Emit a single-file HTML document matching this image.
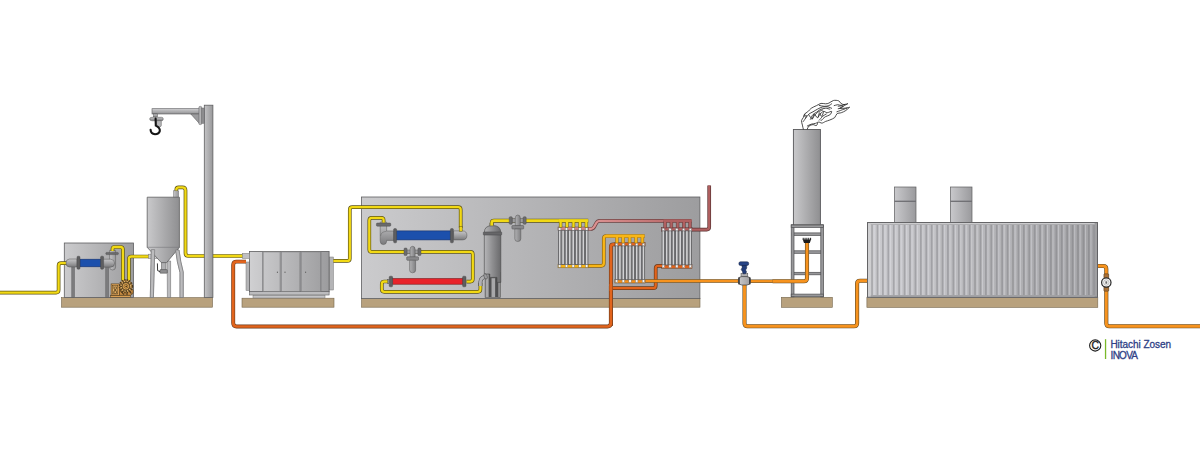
<!DOCTYPE html>
<html><head><meta charset="utf-8"><title>Process diagram</title>
<style>html,body{margin:0;padding:0;background:#fff;}svg{display:block;}</style>
</head><body>
<svg width="1200" height="452" viewBox="0 0 1200 452">
<rect width="1200" height="452" fill="#ffffff"/>
<defs>
<linearGradient id="gB" x1="0" y1="0" x2="1" y2="0"><stop offset="0" stop-color="#cbcbcd"/><stop offset="1" stop-color="#9d9d9f"/></linearGradient>
<linearGradient id="gS" x1="0" y1="0" x2="1" y2="0"><stop offset="0" stop-color="#c9c9cb"/><stop offset="1" stop-color="#8f8f91"/></linearGradient>
<linearGradient id="gP" x1="0" y1="0" x2="1" y2="0"><stop offset="0" stop-color="#c4c4c6"/><stop offset="1" stop-color="#98989a"/></linearGradient>
<linearGradient id="gV" x1="0" y1="0" x2="0" y2="1"><stop offset="0" stop-color="#b8b8ba"/><stop offset="0.5" stop-color="#8e8e90"/><stop offset="1" stop-color="#6e6e70"/></linearGradient>
<linearGradient id="gC" x1="0" y1="0" x2="1" y2="0"><stop offset="0" stop-color="#b6b6b8"/><stop offset="0.5" stop-color="#8e8e90"/><stop offset="1" stop-color="#6a6a6c"/></linearGradient>
<linearGradient id="gV2" x1="0" y1="0" x2="0" y2="1"><stop offset="0" stop-color="#c6c6c8"/><stop offset="0.5" stop-color="#a2a2a4"/><stop offset="1" stop-color="#7a7a7c"/></linearGradient>
<linearGradient id="gA" x1="0" y1="0" x2="0" y2="1"><stop offset="0" stop-color="#cdcdcf"/><stop offset="0.35" stop-color="#b8b8ba"/><stop offset="0.7" stop-color="#a4a4a6"/><stop offset="1" stop-color="#8a8a8c"/></linearGradient>
<linearGradient id="gK" x1="0" y1="0" x2="1" y2="0"><stop offset="0" stop-color="#cbcbcf"/><stop offset="1" stop-color="#a2a2a5"/></linearGradient>
<linearGradient id="gPk" gradientUnits="userSpaceOnUse" x1="588" y1="0" x2="692" y2="0"><stop offset="0" stop-color="#de9494"/><stop offset="1" stop-color="#b26262"/></linearGradient>
<linearGradient id="gF" x1="0" y1="0" x2="1" y2="0"><stop offset="0" stop-color="#b2b2b4"/><stop offset="1" stop-color="#808082"/></linearGradient>
<linearGradient id="gH" x1="0" y1="0" x2="1" y2="0"><stop offset="0" stop-color="#c9c9cc"/><stop offset="1" stop-color="#9a9a9d"/></linearGradient>
<linearGradient id="gT" x1="0" y1="0" x2="1" y2="0"><stop offset="0" stop-color="#d0d0d2"/><stop offset="1" stop-color="#9c9c9e"/></linearGradient>
</defs>
<rect x="361.5" y="298.6" width="338.5" height="8.599999999999966" fill="#b8a17d" stroke="#74654c" stroke-width="0.6"/>
<rect x="361.5" y="197" width="338.4" height="101.6" fill="url(#gB)" stroke="#5e5e60" stroke-width="0.8"/>
<rect x="61.5" y="297.6" width="151.0" height="9.599999999999966" fill="#b8a17d" stroke="#74654c" stroke-width="0.6"/>
<rect x="64.3" y="243" width="69.2" height="54.5" fill="url(#gB)" stroke="#5e5e60" stroke-width="0.8"/>
<path d="M0 292.6 L56.10 292.60 Q58.6 292.6 58.60 290.10 L58.60 265.70 Q58.6 263.2 61.10 263.20 L68 263.2" fill="none" stroke="#5e5416" stroke-width="3.7" stroke-linejoin="round" stroke-linecap="butt"/>
<path d="M0 292.6 L56.10 292.60 Q58.6 292.6 58.60 290.10 L58.60 265.70 Q58.6 263.2 61.10 263.20 L68 263.2" fill="none" stroke="#f2d914" stroke-width="2.3" stroke-linejoin="round" stroke-linecap="butt"/>
<rect x="71.8" y="266" width="2.6" height="31.5" fill="#7c7c7e" stroke="#58585a" stroke-width="0.5"/>
<rect x="105.8" y="266" width="2.6" height="31.5" fill="#7c7c7e" stroke="#58585a" stroke-width="0.5"/>
<path d="M77 259 L69.5 259 Q66 259 66 263 Q66 267 69.5 267 L77 267 Z" fill="url(#gV2)" stroke="#555" stroke-width="0.5"/>
<path d="M109.6 250.4 L115.6 250.4 L115.6 267 Q115.6 270 112.6 270 Q109.6 270 109.6 267 Z" fill="url(#gP)" stroke="#555" stroke-width="0.5"/>
<path d="M101 259.2 L110.6 259.2 Q114.6 259.4 114.6 263.2 Q114.6 267 110.6 267.2 L101 267.2 Z" fill="url(#gV2)" stroke="#555" stroke-width="0.5"/>
<rect x="105.8" y="252.4" width="12.6" height="2.2" rx="0.8" fill="#6a6a6c" stroke="#444" stroke-width="0.4"/>
<rect x="79.9" y="259.2" width="21" height="7.6" fill="#1c50ac" stroke="#16306a" stroke-width="0.6"/>
<rect x="77" y="256.2" width="3" height="13" rx="1" fill="#5e5e60" stroke="#444" stroke-width="0.4"/>
<rect x="100.6" y="256.2" width="3" height="13" rx="1" fill="#5e5e60" stroke="#444" stroke-width="0.4"/>
<path d="M112.5 251 L112.50 249.00 Q112.5 247 114.50 247.00 L120.40 247.00 Q122.9 247 122.90 249.50 L122.9 280.6" fill="none" stroke="#5e5416" stroke-width="3.7" stroke-linejoin="round" stroke-linecap="butt"/>
<path d="M112.5 251 L112.50 249.00 Q112.5 247 114.50 247.00 L120.40 247.00 Q122.9 247 122.90 249.50 L122.9 280.6" fill="none" stroke="#f2d914" stroke-width="2.3" stroke-linejoin="round" stroke-linecap="butt"/>
<path d="M128.9 280.6 L128.90 259.00 Q128.9 256.5 131.40 256.50 L149.2 256.5" fill="none" stroke="#5e5416" stroke-width="3.7" stroke-linejoin="round" stroke-linecap="butt"/>
<path d="M128.9 280.6 L128.90 259.00 Q128.9 256.5 131.40 256.50 L149.2 256.5" fill="none" stroke="#f2d914" stroke-width="2.3" stroke-linejoin="round" stroke-linecap="butt"/>
<rect x="110.6" y="295.2" width="20" height="2" fill="#e2a658" stroke="#4e3a1c" stroke-width="0.5"/>
<path d="M119 287 L131.5 288.6 Q133.2 289.4 133.2 291 L133 293.4 L130.4 295.3 L119 295.3 Z" fill="#c88c44" stroke="#4e3a1c" stroke-width="0.6"/>
<path d="M120.6 291 L124 294.6 M127 291.6 L127 295 M129.4 290.6 L131.4 293.6" stroke="#4e3a1c" stroke-width="1.1" fill="none"/>
<rect x="111.1" y="283.9" width="8.2" height="11.4" fill="#e0a458" stroke="#4e3a1c" stroke-width="0.6"/>
<rect x="112.6" y="285.6" width="5.2" height="8.4" fill="#e8b468" stroke="#4e3a1c" stroke-width="0.5"/>
<circle cx="115.2" cy="288.2" r="1.4" fill="none" stroke="#4e3a1c" stroke-width="0.6"/>
<circle cx="115.2" cy="292" r="1.6" fill="none" stroke="#4e3a1c" stroke-width="0.6"/>
<path d="M113.2 286 L117.2 294 M117.2 286 L113.2 294" stroke="#4e3a1c" stroke-width="0.4" fill="none"/>
<circle cx="125.9" cy="286.3" r="6.5" fill="#d89c4c" stroke="#4e3a1c" stroke-width="1.5" stroke-dasharray="1.5 1.05"/>
<circle cx="125.9" cy="286.3" r="5.9" fill="#5a4424" stroke="none"/>
<circle cx="125.9" cy="286.3" r="4.9" fill="none" stroke="#f2c070" stroke-width="1.3" stroke-dasharray="1.3 1.27"/>
<circle cx="125.9" cy="286.3" r="3.6" fill="#f0b45c" stroke="#4e3a1c" stroke-width="0.7"/>
<circle cx="125.9" cy="286.3" r="2" fill="#e8a850" stroke="#4e3a1c" stroke-width="0.6"/>
<circle cx="126.2" cy="286.3" r="0.9" fill="#4e3a1c"/>
<path d="M176.3 192 L176.30 189.65 Q176.3 187.3 178.65 187.30 L182.50 187.30 Q185.5 187.3 185.50 190.30 L185.50 253.00 Q185.5 256 188.50 256.00 L243 256" fill="none" stroke="#5e5416" stroke-width="3.7" stroke-linejoin="round" stroke-linecap="butt"/>
<path d="M176.3 192 L176.30 189.65 Q176.3 187.3 178.65 187.30 L182.50 187.30 Q185.5 187.3 185.50 190.30 L185.50 253.00 Q185.5 256 188.50 256.00 L243 256" fill="none" stroke="#f2d914" stroke-width="2.3" stroke-linejoin="round" stroke-linecap="butt"/>
<rect x="173.7" y="190.8" width="4.8" height="6.6" fill="url(#gP)" stroke="#666" stroke-width="0.5"/>
<rect x="148.6" y="254.2" width="8.6" height="4.4" fill="#d0d0d2" stroke="#777" stroke-width="0.5"/>
<path d="M151.3 249.6 L154.7 249.6 L153.4 297.5 L150.3 297.5 Z" fill="#bcbcbe" stroke="#707072" stroke-width="0.6"/>
<path d="M167.2 261 L170.6 261 L170.6 297.5 L167.4 297.5 Z" fill="#bcbcbe" stroke="#707072" stroke-width="0.6"/>
<path d="M175.6 250 L179 250 Q180.4 262 183.2 272 L183.2 297.5 L180 297.5 L180 272.6 Q177 262 175.6 250 Z" fill="#bcbcbe" stroke="#707072" stroke-width="0.6"/>
<rect x="161.4" y="261.6" width="4.6" height="8.6" fill="#b0b0b2" stroke="#555" stroke-width="0.5"/>
<rect x="159.9" y="269.6" width="7.4" height="3.6" rx="0.6" fill="#8e8e90" stroke="#444" stroke-width="0.5"/>
<path d="M157.4 263.4 L157.6 270.6 L160 271.6" fill="none" stroke="#222" stroke-width="0.9"/>
<path d="M147.2 197.2 L179.4 197.2 L179.4 247.3 L166.6 262.6 L161.3 262.6 L147.2 247.3 Z" fill="url(#gS)" stroke="#5e5e60" stroke-width="0.8" stroke-linejoin="round"/>
<path d="M147.2 247.3 L179.4 247.3" stroke="#77777a" stroke-width="0.6"/>
<path d="M151.3 249.6 L154.7 249.6 L153.4 297.5 L150.3 297.5 Z" fill="#bcbcbe" stroke="#707072" stroke-width="0.6"/>
<path d="M175.6 250 L179 250 Q180.4 262 183.2 272 L183.2 297.5 L180 297.5 L180 272.6 Q177 262 175.6 250 Z" fill="#bcbcbe" stroke="#707072" stroke-width="0.6"/>
<rect x="204.3" y="105.2" width="8.6" height="192.4" fill="url(#gP)" stroke="#5e5e60" stroke-width="0.8"/>
<rect x="152" y="108.7" width="47.6" height="5.3" fill="url(#gA)" stroke="#5e5e60" stroke-width="0.6"/>
<path d="M190.8 114 L199.6 114 L199.6 123.8 Z" fill="#9c9c9e" stroke="#5e5e60" stroke-width="0.6"/>
<rect x="198.9" y="106.4" width="2.8" height="18.2" rx="1" fill="#b4b4b6" stroke="#5e5e60" stroke-width="0.5"/>
<rect x="201.7" y="108" width="2.6" height="15.4" fill="#8c8c8e" stroke="#5e5e60" stroke-width="0.4"/>
<rect x="153.6" y="113.8" width="3.8" height="3" fill="#a6a6a8" stroke="#555" stroke-width="0.5"/>
<path d="M156.6 120 L161.3 120 L161.3 125.4 Q161.3 126.6 160 126.6 L157.8 126.6 Q156.6 126.6 156.6 125.4 Z" fill="#b6b6b8" stroke="#555" stroke-width="0.5"/>
<path d="M149.6 119 Q149.6 117.3 152 117.3 L161.6 117.3 Q163.2 117.4 163.2 118.6 L163.2 119.4 Q163.2 120.6 161.6 120.6 L152.4 120.8 Q149.6 120.8 149.6 119 Z" fill="url(#gV2)" stroke="#555" stroke-width="0.5"/>
<path d="M155.6 118.6 L155.8 125.6 Q160.2 127.6 159.8 131 Q159 134.2 155 134.2 Q150.9 134 150.6 129.9" fill="none" stroke="#141414" stroke-width="2.1" stroke-linecap="round"/>
<rect x="242" y="298.2" width="92" height="9.0" fill="#b8a17d" stroke="#74654c" stroke-width="0.6"/>
<rect x="246" y="262" width="4" height="28.5" fill="#b4b4b6" stroke="#777" stroke-width="0.5"/>
<rect x="329" y="257" width="4.4" height="33" fill="#b4b4b6" stroke="#777" stroke-width="0.5"/>
<rect x="253" y="295" width="72" height="3" fill="#c4c4c6" stroke="#777" stroke-width="0.5"/>
<rect x="249.5" y="251.4" width="79.6" height="40.4" fill="url(#gT)" stroke="#5e5e60" stroke-width="0.8"/>
<rect x="249.5" y="291.6" width="79.6" height="3.4" fill="#bcbcbe" stroke="#5e5e60" stroke-width="0.6"/>
<rect x="263.5" y="252" width="16.5" height="39.4" fill="none" stroke="#8a8a8c" stroke-width="0.6"/>
<rect x="281.6" y="252" width="18.0" height="39.4" fill="none" stroke="#8a8a8c" stroke-width="0.6"/>
<rect x="301.6" y="252" width="18.799999999999955" height="39.4" fill="none" stroke="#8a8a8c" stroke-width="0.6"/>
<line x1="262.5" y1="252" x2="262.5" y2="291.4" stroke="#77777a" stroke-width="0.7"/>
<line x1="280.8" y1="252" x2="280.8" y2="291.4" stroke="#77777a" stroke-width="0.7"/>
<line x1="300.6" y1="252" x2="300.6" y2="291.4" stroke="#77777a" stroke-width="0.7"/>
<line x1="321" y1="252" x2="321" y2="291.4" stroke="#77777a" stroke-width="0.7"/>
<rect x="276.9" y="271.6" width="1" height="1.4" fill="#666"/>
<rect x="284.5" y="271.6" width="1" height="1.4" fill="#666"/>
<rect x="305.1" y="271.6" width="1" height="1.4" fill="#666"/>
<rect x="242.4" y="253.4" width="7.2" height="5" fill="#c0c0c2" stroke="#777" stroke-width="0.5"/>
<path d="M333.4 260.9 L347.30 260.90 Q349.8 260.9 349.80 258.40 L349.80 209.70 Q349.8 207.2 352.30 207.20 L458.20 207.20 Q460.7 207.2 460.70 209.70 L460.7 228" fill="none" stroke="#5e5416" stroke-width="3.7" stroke-linejoin="round" stroke-linecap="butt"/>
<path d="M333.4 260.9 L347.30 260.90 Q349.8 260.9 349.80 258.40 L349.80 209.70 Q349.8 207.2 352.30 207.20 L458.20 207.20 Q460.7 207.2 460.70 209.70 L460.7 228" fill="none" stroke="#f2d914" stroke-width="2.3" stroke-linejoin="round" stroke-linecap="butt"/>
<path d="M394 231 L386.6 231 L386.6 222.2 L380.2 222.2 L380.2 241 Q380.2 244.6 383.4 244.6 Q386.6 244.6 386.6 241 L386.6 240.4 L394 240.4 Z" fill="url(#gV2)" stroke="#555" stroke-width="0.5"/>
<path d="M380.6 236 Q381 231.6 386.4 231.4" fill="none" stroke="#666" stroke-width="0.5"/>
<rect x="376.4" y="223" width="14.4" height="3.2" rx="1" fill="#6a6a6c" stroke="#444" stroke-width="0.4"/>
<path d="M453.6 230.9 L462.4 230.9 Q466.9 230.9 466.9 235.4 Q466.9 239.9 462.4 239.9 L453.6 239.9 Z" fill="url(#gV2)" stroke="#555" stroke-width="0.5"/>
<rect x="396.2" y="230.9" width="54.6" height="9" fill="#1c50ac" stroke="#16306a" stroke-width="0.6"/>
<rect x="393.6" y="228.6" width="3" height="14.2" rx="1" fill="#5e5e60" stroke="#444" stroke-width="0.4"/>
<rect x="450.4" y="228.6" width="3" height="14.2" rx="1" fill="#5e5e60" stroke="#444" stroke-width="0.4"/>
<rect x="459.2" y="226.6" width="3" height="4.6" fill="#f2d914" stroke="#5e5416" stroke-width="0.5"/>
<path d="M383.6 222.4 L383.60 220.10 Q383.6 217.8 381.30 217.82 L371.80 217.88 Q369.3 217.9 369.30 220.40 L369.30 249.40 Q369.3 251.9 371.80 251.90 L470.30 251.90 Q472.8 251.9 472.80 254.40 L472.80 279.10 Q472.8 281.6 470.30 281.60 L466.5 281.6" fill="none" stroke="#5e5416" stroke-width="3.7" stroke-linejoin="round" stroke-linecap="butt"/>
<path d="M383.6 222.4 L383.60 220.10 Q383.6 217.8 381.30 217.82 L371.80 217.88 Q369.3 217.9 369.30 220.40 L369.30 249.40 Q369.3 251.9 371.80 251.90 L470.30 251.90 Q472.8 251.9 472.80 254.40 L472.80 279.10 Q472.8 281.6 470.30 281.60 L466.5 281.6" fill="none" stroke="#f2d914" stroke-width="2.3" stroke-linejoin="round" stroke-linecap="butt"/>
<rect x="406.8" y="250.0" width="11.4" height="3.8" fill="#9c9c9e" stroke="#555" stroke-width="0.4"/>
<rect x="404.0" y="248.0" width="3.1" height="7.6" rx="1" fill="#6c6c6e" stroke="#48484a" stroke-width="0.4"/>
<rect x="417.90000000000003" y="248.0" width="3.1" height="7.6" rx="1" fill="#6c6c6e" stroke="#48484a" stroke-width="0.4"/>
<path d="M410.1 249.3 Q410.1 246.3 412.6 246.3 Q415.1 246.3 415.1 249.3 L415.1 257.3 L410.1 257.3 Z" fill="url(#gF)" stroke="#555" stroke-width="0.5"/>
<rect x="406.70000000000005" y="256.8" width="11.8" height="3.5" rx="0.8" fill="#88888a" stroke="#505052" stroke-width="0.5"/>
<path d="M409.6 260.3 L415.6 260.3 L415.6 270.1 Q415.6 272.8 412.6 272.8 Q409.6 272.8 409.6 270.1 Z" fill="url(#gF)" stroke="#555" stroke-width="0.5"/>
<rect x="392.6" y="278.6" width="70.4" height="5.6" fill="#e8222a" stroke="#7a1418" stroke-width="0.6"/>
<rect x="389.2" y="276.2" width="3.4" height="10.6" rx="1" fill="#5e5e60" stroke="#444" stroke-width="0.4"/>
<rect x="462.6" y="276.2" width="3.4" height="10.6" rx="1" fill="#5e5e60" stroke="#444" stroke-width="0.4"/>

<rect x="387.2" y="279.4" width="2.4" height="4.4" fill="#8a8a8c" stroke="#444" stroke-width="0.4"/>
<path d="M387.4 281.5 L384.30 281.50 Q381.8 281.5 381.80 284.00 L381.80 289.30 Q381.8 291.8 384.30 291.80 L477.90 291.80 Q480.4 291.8 480.40 289.30 L480.4 283" fill="none" stroke="#5e5416" stroke-width="3.7" stroke-linejoin="round" stroke-linecap="butt"/>
<path d="M387.4 281.5 L384.30 281.50 Q381.8 281.5 381.80 284.00 L381.80 289.30 Q381.8 291.8 384.30 291.80 L477.90 291.80 Q480.4 291.8 480.40 289.30 L480.4 283" fill="none" stroke="#f2d914" stroke-width="2.3" stroke-linejoin="round" stroke-linecap="butt"/>
<rect x="484.8" y="272" width="15.6" height="25.6" fill="#505052"/>
<rect x="485.3" y="274" width="3.6" height="23.6" fill="#a8a8aa" stroke="#555" stroke-width="0.4"/>
<rect x="491.2" y="278" width="4" height="19.6" fill="#a8a8aa" stroke="#555" stroke-width="0.4"/>
<rect x="498" y="281" width="2.6" height="16.6" fill="#909092" stroke="#555" stroke-width="0.4"/>
<path d="M484.3 274 L484.3 232.4 Q484.4 225.5 492.6 225.5 Q500.7 225.5 500.8 232.4 L500.8 282.4 L497 282.4 L497 277.4 L489.8 277.4 L489.8 274 Z" fill="url(#gC)" stroke="#444" stroke-width="0.6"/>
<rect x="483.3" y="231.9" width="18.4" height="3.2" rx="0.8" fill="#666668" stroke="#3c3c3e" stroke-width="0.4"/>
<rect x="489.9" y="223.2" width="3.8" height="2.8" fill="#a8a8aa" stroke="#555" stroke-width="0.4"/>
<path d="M480.4 286 L480.4 282 Q480.6 277.6 485.4 276.6" fill="none" stroke="#505052" stroke-width="4"/>
<path d="M480.4 286 L480.4 282 Q480.6 277.6 485.4 276.6" fill="none" stroke="#b0b0b2" stroke-width="2.8"/>
<ellipse cx="485.6" cy="276.4" rx="1.6" ry="2.8" fill="#9c9c9e" stroke="#444" stroke-width="0.5" transform="rotate(-20 485.6 276.4)"/>
<path d="M491.7 225.4 L491.70 223.05 Q491.7 220.7 494.05 220.70 L495.00 220.70 Q498 220.7 501.00 220.70 L588.2 220.7" fill="none" stroke="#5e5416" stroke-width="3.9" stroke-linejoin="round" stroke-linecap="butt"/>
<path d="M491.7 225.4 L491.70 223.05 Q491.7 220.7 494.05 220.70 L495.00 220.70 Q498 220.7 501.00 220.70 L588.2 220.7" fill="none" stroke="#f2d914" stroke-width="2.7" stroke-linejoin="round" stroke-linecap="butt"/>
<rect x="511.99999999999994" y="218.7" width="11.4" height="3.8" fill="#9c9c9e" stroke="#555" stroke-width="0.4"/>
<rect x="509.19999999999993" y="216.7" width="3.1" height="7.6" rx="1" fill="#6c6c6e" stroke="#48484a" stroke-width="0.4"/>
<rect x="523.0999999999999" y="216.7" width="3.1" height="7.6" rx="1" fill="#6c6c6e" stroke="#48484a" stroke-width="0.4"/>
<path d="M515.3 218.0 Q515.3 215.0 517.8 215.0 Q520.3 215.0 520.3 218.0 L520.3 226.0 L515.3 226.0 Z" fill="url(#gF)" stroke="#555" stroke-width="0.5"/>
<rect x="511.9" y="225.5" width="11.8" height="3.5" rx="0.8" fill="#88888a" stroke="#505052" stroke-width="0.5"/>
<path d="M514.8 229.0 L520.8 229.0 L520.8 238.79999999999998 Q520.8 241.5 517.8 241.5 Q514.8 241.5 514.8 238.79999999999998 Z" fill="url(#gF)" stroke="#555" stroke-width="0.5"/>
<path d="M588 265.8 L601.30 265.80 Q603.8 265.8 603.80 263.30 L603.80 238.50 Q603.8 236 606.30 236.00 L644.6 236" fill="none" stroke="#8a6414" stroke-width="3.7" stroke-linejoin="round" stroke-linecap="butt"/>
<path d="M588 265.8 L601.30 265.80 Q603.8 265.8 603.80 263.30 L603.80 238.50 Q603.8 236 606.30 236.00 L644.6 236" fill="none" stroke="#f9b616" stroke-width="2.3" stroke-linejoin="round" stroke-linecap="butt"/>
<path d="M588 229 L590.50 229.00 Q593 229 594.20 226.81 L596.42 222.77 Q597.5 220.8 599.75 220.80 L599.75 220.80 Q602 220.8 604.25 220.80 L691.4 220.8" fill="none" stroke="#6e4242" stroke-width="3.7" stroke-linejoin="round" stroke-linecap="butt"/>
<path d="M588 229 L590.50 229.00 Q593 229 594.20 226.81 L596.42 222.77 Q597.5 220.8 599.75 220.80 L599.75 220.80 Q602 220.8 604.25 220.80 L691.4 220.8" fill="none" stroke="url(#gPk)" stroke-width="2.3" stroke-linejoin="round" stroke-linecap="butt"/>
<rect x="558" y="227" width="30.399999999999977" height="3.6" fill="#d48a8a" stroke="#6e4242" stroke-width="0.5"/>
<rect x="558" y="264.2" width="30.399999999999977" height="3.6" fill="#f9b616" stroke="#8a6414" stroke-width="0.5"/>
<rect x="558.45" y="230.2" width="2.48" height="34.40000000000001" fill="#d2d2d4" stroke="#58585a" stroke-width="0.8"/>
<rect x="558.50" y="227.5" width="2.38" height="2.7" fill="#f4f4f4" stroke="#666" stroke-width="0.4"/>
<rect x="558.50" y="264.6" width="2.38" height="2.7" fill="#f4f4f4" stroke="#666" stroke-width="0.4"/>
<rect x="561.83" y="230.2" width="2.48" height="34.40000000000001" fill="#d2d2d4" stroke="#58585a" stroke-width="0.8"/>
<rect x="565.21" y="230.2" width="2.48" height="34.40000000000001" fill="#d2d2d4" stroke="#58585a" stroke-width="0.8"/>
<rect x="565.26" y="227.5" width="2.38" height="2.7" fill="#f4f4f4" stroke="#666" stroke-width="0.4"/>
<rect x="565.26" y="264.6" width="2.38" height="2.7" fill="#f4f4f4" stroke="#666" stroke-width="0.4"/>
<rect x="568.58" y="230.2" width="2.48" height="34.40000000000001" fill="#d2d2d4" stroke="#58585a" stroke-width="0.8"/>
<rect x="571.96" y="230.2" width="2.48" height="34.40000000000001" fill="#d2d2d4" stroke="#58585a" stroke-width="0.8"/>
<rect x="572.01" y="227.5" width="2.38" height="2.7" fill="#f4f4f4" stroke="#666" stroke-width="0.4"/>
<rect x="572.01" y="264.6" width="2.38" height="2.7" fill="#f4f4f4" stroke="#666" stroke-width="0.4"/>
<rect x="575.34" y="230.2" width="2.48" height="34.40000000000001" fill="#d2d2d4" stroke="#58585a" stroke-width="0.8"/>
<rect x="578.72" y="230.2" width="2.48" height="34.40000000000001" fill="#d2d2d4" stroke="#58585a" stroke-width="0.8"/>
<rect x="578.77" y="227.5" width="2.38" height="2.7" fill="#f4f4f4" stroke="#666" stroke-width="0.4"/>
<rect x="578.77" y="264.6" width="2.38" height="2.7" fill="#f4f4f4" stroke="#666" stroke-width="0.4"/>
<rect x="582.09" y="230.2" width="2.48" height="34.40000000000001" fill="#d2d2d4" stroke="#58585a" stroke-width="0.8"/>
<rect x="585.47" y="230.2" width="2.48" height="34.40000000000001" fill="#d2d2d4" stroke="#58585a" stroke-width="0.8"/>
<rect x="585.52" y="227.5" width="2.38" height="2.7" fill="#f4f4f4" stroke="#666" stroke-width="0.4"/>
<rect x="585.52" y="264.6" width="2.38" height="2.7" fill="#f4f4f4" stroke="#666" stroke-width="0.4"/>
<rect x="559.15" y="220.8" width="2.9" height="6.599999999999994" fill="#f2d914" stroke="#5e5416" stroke-width="0.5"/>
<rect x="565.60" y="220.8" width="2.9" height="6.599999999999994" fill="#f2d914" stroke="#5e5416" stroke-width="0.5"/>
<rect x="572.05" y="220.8" width="2.9" height="6.599999999999994" fill="#f2d914" stroke="#5e5416" stroke-width="0.5"/>
<rect x="578.50" y="220.8" width="2.9" height="6.599999999999994" fill="#f2d914" stroke="#5e5416" stroke-width="0.5"/>
<rect x="584.95" y="220.8" width="2.9" height="6.599999999999994" fill="#f2d914" stroke="#5e5416" stroke-width="0.5"/>
<rect x="558.9" y="219.5" width="29" height="2.6" fill="#f2d914"/>
<path d="M610.9 326 L610.90 246.90 Q610.9 244.4 613.40 244.40 L616 244.4" fill="none" stroke="#6a3a1c" stroke-width="3.9" stroke-linejoin="round" stroke-linecap="butt"/>
<path d="M610.9 326 L610.90 246.90 Q610.9 244.4 613.40 244.40 L616 244.4" fill="none" stroke="#e2641c" stroke-width="2.7" stroke-linejoin="round" stroke-linecap="butt"/>
<rect x="614.9" y="242.6" width="30.200000000000045" height="3.6" fill="#e2641c" stroke="#6a3a1c" stroke-width="0.5"/>
<rect x="614.9" y="279.4" width="30.200000000000045" height="3.6" fill="#f7931e" stroke="#5e4a28" stroke-width="0.5"/>
<rect x="615.35" y="245.79999999999998" width="2.46" height="34.00000000000001" fill="#d2d2d4" stroke="#58585a" stroke-width="0.8"/>
<rect x="615.40" y="243.1" width="2.36" height="2.7" fill="#f4f4f4" stroke="#666" stroke-width="0.4"/>
<rect x="615.40" y="279.8" width="2.36" height="2.7" fill="#f4f4f4" stroke="#666" stroke-width="0.4"/>
<rect x="618.71" y="245.79999999999998" width="2.46" height="34.00000000000001" fill="#d2d2d4" stroke="#58585a" stroke-width="0.8"/>
<rect x="622.06" y="245.79999999999998" width="2.46" height="34.00000000000001" fill="#d2d2d4" stroke="#58585a" stroke-width="0.8"/>
<rect x="622.11" y="243.1" width="2.36" height="2.7" fill="#f4f4f4" stroke="#666" stroke-width="0.4"/>
<rect x="622.11" y="279.8" width="2.36" height="2.7" fill="#f4f4f4" stroke="#666" stroke-width="0.4"/>
<rect x="625.42" y="245.79999999999998" width="2.46" height="34.00000000000001" fill="#d2d2d4" stroke="#58585a" stroke-width="0.8"/>
<rect x="628.77" y="245.79999999999998" width="2.46" height="34.00000000000001" fill="#d2d2d4" stroke="#58585a" stroke-width="0.8"/>
<rect x="628.82" y="243.1" width="2.36" height="2.7" fill="#f4f4f4" stroke="#666" stroke-width="0.4"/>
<rect x="628.82" y="279.8" width="2.36" height="2.7" fill="#f4f4f4" stroke="#666" stroke-width="0.4"/>
<rect x="632.13" y="245.79999999999998" width="2.46" height="34.00000000000001" fill="#d2d2d4" stroke="#58585a" stroke-width="0.8"/>
<rect x="635.48" y="245.79999999999998" width="2.46" height="34.00000000000001" fill="#d2d2d4" stroke="#58585a" stroke-width="0.8"/>
<rect x="635.53" y="243.1" width="2.36" height="2.7" fill="#f4f4f4" stroke="#666" stroke-width="0.4"/>
<rect x="635.53" y="279.8" width="2.36" height="2.7" fill="#f4f4f4" stroke="#666" stroke-width="0.4"/>
<rect x="638.84" y="245.79999999999998" width="2.46" height="34.00000000000001" fill="#d2d2d4" stroke="#58585a" stroke-width="0.8"/>
<rect x="642.19" y="245.79999999999998" width="2.46" height="34.00000000000001" fill="#d2d2d4" stroke="#58585a" stroke-width="0.8"/>
<rect x="642.24" y="243.1" width="2.36" height="2.7" fill="#f4f4f4" stroke="#666" stroke-width="0.4"/>
<rect x="642.24" y="279.8" width="2.36" height="2.7" fill="#f4f4f4" stroke="#666" stroke-width="0.4"/>
<rect x="615.35" y="236" width="2.9" height="7" fill="#f9b616" stroke="#8a6414" stroke-width="0.5"/>
<rect x="621.75" y="236" width="2.9" height="7" fill="#f9b616" stroke="#8a6414" stroke-width="0.5"/>
<rect x="628.15" y="236" width="2.9" height="7" fill="#f9b616" stroke="#8a6414" stroke-width="0.5"/>
<rect x="634.55" y="236" width="2.9" height="7" fill="#f9b616" stroke="#8a6414" stroke-width="0.5"/>
<rect x="640.95" y="236" width="2.9" height="7" fill="#f9b616" stroke="#8a6414" stroke-width="0.5"/>
<rect x="606" y="234.7" width="38" height="2.6" fill="#f9b616"/>
<rect x="661.6" y="227.6" width="30.399999999999977" height="3.6" fill="#b06060" stroke="#5a3232" stroke-width="0.5"/>
<rect x="661.6" y="264.59999999999997" width="30.399999999999977" height="3.6" fill="#e2641c" stroke="#6a3a1c" stroke-width="0.5"/>
<rect x="662.05" y="230.79999999999998" width="2.48" height="34.199999999999996" fill="#d2d2d4" stroke="#58585a" stroke-width="0.8"/>
<rect x="662.10" y="228.1" width="2.38" height="2.7" fill="#f4f4f4" stroke="#666" stroke-width="0.4"/>
<rect x="662.10" y="265.0" width="2.38" height="2.7" fill="#f4f4f4" stroke="#666" stroke-width="0.4"/>
<rect x="665.43" y="230.79999999999998" width="2.48" height="34.199999999999996" fill="#d2d2d4" stroke="#58585a" stroke-width="0.8"/>
<rect x="668.81" y="230.79999999999998" width="2.48" height="34.199999999999996" fill="#d2d2d4" stroke="#58585a" stroke-width="0.8"/>
<rect x="668.86" y="228.1" width="2.38" height="2.7" fill="#f4f4f4" stroke="#666" stroke-width="0.4"/>
<rect x="668.86" y="265.0" width="2.38" height="2.7" fill="#f4f4f4" stroke="#666" stroke-width="0.4"/>
<rect x="672.18" y="230.79999999999998" width="2.48" height="34.199999999999996" fill="#d2d2d4" stroke="#58585a" stroke-width="0.8"/>
<rect x="675.56" y="230.79999999999998" width="2.48" height="34.199999999999996" fill="#d2d2d4" stroke="#58585a" stroke-width="0.8"/>
<rect x="675.61" y="228.1" width="2.38" height="2.7" fill="#f4f4f4" stroke="#666" stroke-width="0.4"/>
<rect x="675.61" y="265.0" width="2.38" height="2.7" fill="#f4f4f4" stroke="#666" stroke-width="0.4"/>
<rect x="678.94" y="230.79999999999998" width="2.48" height="34.199999999999996" fill="#d2d2d4" stroke="#58585a" stroke-width="0.8"/>
<rect x="682.32" y="230.79999999999998" width="2.48" height="34.199999999999996" fill="#d2d2d4" stroke="#58585a" stroke-width="0.8"/>
<rect x="682.37" y="228.1" width="2.38" height="2.7" fill="#f4f4f4" stroke="#666" stroke-width="0.4"/>
<rect x="682.37" y="265.0" width="2.38" height="2.7" fill="#f4f4f4" stroke="#666" stroke-width="0.4"/>
<rect x="685.69" y="230.79999999999998" width="2.48" height="34.199999999999996" fill="#d2d2d4" stroke="#58585a" stroke-width="0.8"/>
<rect x="689.07" y="230.79999999999998" width="2.48" height="34.199999999999996" fill="#d2d2d4" stroke="#58585a" stroke-width="0.8"/>
<rect x="689.12" y="228.1" width="2.38" height="2.7" fill="#f4f4f4" stroke="#666" stroke-width="0.4"/>
<rect x="689.12" y="265.0" width="2.38" height="2.7" fill="#f4f4f4" stroke="#666" stroke-width="0.4"/>
<rect x="663.75" y="220.8" width="2.9" height="7.199999999999989" fill="#b06060" stroke="#5a3232" stroke-width="0.5"/>
<rect x="669.95" y="220.8" width="2.9" height="7.199999999999989" fill="#b06060" stroke="#5a3232" stroke-width="0.5"/>
<rect x="676.15" y="220.8" width="2.9" height="7.199999999999989" fill="#b06060" stroke="#5a3232" stroke-width="0.5"/>
<rect x="682.35" y="220.8" width="2.9" height="7.199999999999989" fill="#b06060" stroke="#5a3232" stroke-width="0.5"/>
<rect x="688.55" y="220.8" width="2.9" height="7.199999999999989" fill="#b06060" stroke="#5a3232" stroke-width="0.5"/>
<rect x="663.4" y="219.5" width="28.2" height="2.6" fill="#b06060"/>
<path d="M692 229.6 L706.70 229.60 Q709.2 229.6 709.20 227.10 L709.2 185.4" fill="none" stroke="#5a3232" stroke-width="3.7" stroke-linejoin="round" stroke-linecap="butt"/>
<path d="M692 229.6 L706.70 229.60 Q709.2 229.6 709.20 227.10 L709.2 185.4" fill="none" stroke="#b06060" stroke-width="2.3" stroke-linejoin="round" stroke-linecap="butt"/>
<path d="M662 265.8 L658.20 265.80 Q655.7 265.8 655.70 268.30 L655.70 285.70 Q655.7 288.2 653.20 288.20 L610.9 288.2" fill="none" stroke="#6a3a1c" stroke-width="3.7" stroke-linejoin="round" stroke-linecap="butt"/>
<path d="M662 265.8 L658.20 265.80 Q655.7 265.8 655.70 268.30 L655.70 285.70 Q655.7 288.2 653.20 288.20 L610.9 288.2" fill="none" stroke="#e2641c" stroke-width="2.3" stroke-linejoin="round" stroke-linecap="butt"/>
<path d="M246 261.6 L236.60 261.60 Q233.2 261.6 233.20 265.00 L233.20 323.10 Q233.2 326.5 236.60 326.50 L607.50 326.50 Q610.9 326.5 610.90 323.10 L610.9 286" fill="none" stroke="#6a3a1c" stroke-width="3.9" stroke-linejoin="round" stroke-linecap="butt"/>
<path d="M246 261.6 L236.60 261.60 Q233.2 261.6 233.20 265.00 L233.20 323.10 Q233.2 326.5 236.60 326.50 L607.50 326.50 Q610.9 326.5 610.90 323.10 L610.9 286" fill="none" stroke="#e2641c" stroke-width="2.7" stroke-linejoin="round" stroke-linecap="butt"/>
<rect x="609.55" y="284" width="2.7" height="7" fill="#e2641c"/>
<path d="M645.4 281 L739 281" fill="none" stroke="#5e4a28" stroke-width="3.4" stroke-linejoin="round" stroke-linecap="butt"/>
<path d="M645.4 281 L739 281" fill="none" stroke="#f7931e" stroke-width="2.3" stroke-linejoin="round" stroke-linecap="butt"/>
<rect x="781.4" y="297.3" width="50.89999999999998" height="10.0" fill="#b8a17d" stroke="#74654c" stroke-width="0.6"/>
<path d="M744.5 283 L744.50 323.20 Q744.5 326.2 747.50 326.20 L854.10 326.20 Q857.1 326.2 857.10 323.20 L857.10 283.80 Q857.1 280.8 860.10 280.80 L868 280.8" fill="none" stroke="#5e4a28" stroke-width="4.1" stroke-linejoin="round" stroke-linecap="butt"/>
<path d="M744.5 283 L744.50 323.20 Q744.5 326.2 747.50 326.20 L854.10 326.20 Q857.1 326.2 857.10 323.20 L857.10 283.80 Q857.1 280.8 860.10 280.80 L868 280.8" fill="none" stroke="#f7931e" stroke-width="2.9" stroke-linejoin="round" stroke-linecap="butt"/>
<rect x="792" y="232.9" width="30.8" height="2.5" fill="#98989a" stroke="#4e4e50" stroke-width="0.7"/>
<rect x="792" y="250.8" width="30.8" height="2.5" fill="#98989a" stroke="#4e4e50" stroke-width="0.7"/>
<rect x="792" y="272.3" width="30.8" height="2.5" fill="#98989a" stroke="#4e4e50" stroke-width="0.7"/>
<rect x="791.2" y="224.8" width="2.8" height="72" fill="#98989a" stroke="#4e4e50" stroke-width="0.7"/>
<rect x="820.8" y="224.8" width="2.8" height="72" fill="#98989a" stroke="#4e4e50" stroke-width="0.7"/>
<rect x="791.2" y="224.9" width="32.4" height="2.6" fill="#98989a" stroke="#4e4e50" stroke-width="0.7"/>
<rect x="791.2" y="294.1" width="32.4" height="2.6" fill="#98989a" stroke="#4e4e50" stroke-width="0.7"/>
<path d="M749 281.2 L773 281.2" fill="none" stroke="#5e4a28" stroke-width="3.4" stroke-linejoin="round" stroke-linecap="butt"/>
<path d="M749 281.2 L773 281.2" fill="none" stroke="#f7931e" stroke-width="2.3" stroke-linejoin="round" stroke-linecap="butt"/>
<path d="M772.6 281.2 L804.00 281.20 Q807 281.2 807.00 278.20 L807 243" fill="none" stroke="#5e4a28" stroke-width="4.1" stroke-linejoin="round" stroke-linecap="butt"/>
<path d="M772.6 281.2 L804.00 281.20 Q807 281.2 807.00 278.20 L807 243" fill="none" stroke="#f7931e" stroke-width="2.9" stroke-linejoin="round" stroke-linecap="butt"/>
<path d="M802.8 239.4 L811 239.4 L809.8 243 L804 243 Z" fill="#1c1c1c"/>
<rect x="802.7" y="237.8" width="1" height="2.2" fill="#1c1c1c"/>
<rect x="804.55" y="237.8" width="1" height="2.2" fill="#1c1c1c"/>
<rect x="806.4" y="237.8" width="1" height="2.2" fill="#1c1c1c"/>
<rect x="808.25" y="237.8" width="1" height="2.2" fill="#1c1c1c"/>
<rect x="810.1" y="237.8" width="1" height="2.2" fill="#1c1c1c"/>
<rect x="793.4" y="129.5" width="27" height="95.2" fill="url(#gS)" stroke="#58585a" stroke-width="0.9"/>
<path d="M803.3 129.1 C803.1 128.4 802.7 126.5 802.4 125.1 C802.1 123.7 801.4 121.9 801.5 120.7 C801.7 119.4 802.8 118.7 803.3 117.6 C803.8 116.5 803.9 115.0 804.6 114.0 C805.3 113.1 806.6 112.8 807.7 111.8 C808.8 110.9 809.8 109.3 811.2 108.3 C812.7 107.2 814.9 106.4 816.5 105.6 C818.2 104.8 819.5 103.7 821.0 103.4 C822.4 103.1 824.1 103.9 825.4 103.8 C826.7 103.8 827.6 103.7 828.9 103.1 C830.3 102.6 831.7 100.9 833.4 100.5 C835.0 100.1 837.4 100.4 838.7 100.8 C839.9 101.3 840.0 102.8 840.9 103.4 C841.8 104.0 842.9 104.5 844.0 104.6 C845.1 104.6 846.9 104.0 847.5 103.8" fill="none" stroke="#2c2c2c" stroke-width="0.85" stroke-linecap="round" stroke-linejoin="round"/>
<path d="M847.5 103.8 C846.8 104.3 844.4 105.6 843.1 106.3 C841.8 107.1 839.4 107.9 839.6 108.3 C839.7 108.6 842.4 108.4 844.0 108.3 C845.6 108.1 848.4 107.5 849.3 107.4" fill="none" stroke="#2c2c2c" stroke-width="0.85" stroke-linecap="round" stroke-linejoin="round"/>
<path d="M849.3 107.4 C848.7 107.9 847.1 109.6 845.8 110.5 C844.4 111.4 842.8 112.2 841.3 112.7 C839.9 113.2 838.0 112.9 836.9 113.8 C835.8 114.6 835.9 116.5 834.7 117.6 C833.5 118.6 831.4 119.3 829.8 120.0 C828.3 120.6 826.7 121.0 825.4 121.5 C824.1 122.1 823.0 123.1 821.9 123.1 C820.7 123.2 819.2 121.6 818.3 122.0 C817.4 122.4 817.4 125.1 816.5 125.5 C815.7 126.0 814.3 124.6 813.0 124.6 C811.8 124.7 810.0 125.2 809.0 126.0 C808.1 126.7 807.6 128.6 807.3 129.1" fill="none" stroke="#2c2c2c" stroke-width="0.85" stroke-linecap="round" stroke-linejoin="round"/>
<path d="M803.3 121.5 C803.8 120.8 805.4 118.4 806.4 117.1 C807.3 115.9 807.9 114.9 809.0 114.0 C810.1 113.1 811.6 112.6 813.0 111.8 C814.4 111.0 815.8 110.0 817.4 109.2 C819.1 108.3 821.0 107.3 822.7 106.9 C824.5 106.6 826.6 106.7 828.1 106.9 C829.5 107.2 831.0 108.1 831.6 108.3" fill="none" stroke="#2c2c2c" stroke-width="0.85" stroke-linecap="round" stroke-linejoin="round"/>
<path d="M810.4 119.3 C810.8 118.5 812.0 115.6 813.0 114.5 C814.0 113.3 815.4 113.1 816.5 112.3 C817.7 111.4 818.6 110.3 820.1 109.6 C821.6 108.9 823.8 108.3 825.4 108.3 C827.0 108.2 829.1 109.0 829.8 109.2" fill="none" stroke="#2c2c2c" stroke-width="0.85" stroke-linecap="round" stroke-linejoin="round"/>
<path d="M812.1 118.9 C812.7 118.1 814.5 115.3 815.7 114.0 C816.8 112.8 818.0 112.0 819.2 111.4 C820.4 110.7 822.2 110.3 822.7 110.0" fill="none" stroke="#2c2c2c" stroke-width="0.85" stroke-linecap="round" stroke-linejoin="round"/>
<path d="M818.3 117.1 C818.6 116.6 819.2 115.0 820.1 114.0 C821.0 113.1 822.4 111.6 823.6 111.4 C824.8 111.2 825.8 112.7 827.2 112.7 C828.5 112.7 831.2 111.0 831.6 111.4 C832.0 111.7 830.9 114.0 829.8 114.9 C828.8 115.8 826.9 115.7 825.4 116.7 C823.9 117.6 821.7 120.0 821.0 120.7" fill="none" stroke="#2c2c2c" stroke-width="0.85" stroke-linecap="round" stroke-linejoin="round"/>
<path d="M819.2 120.2 C819.8 119.6 821.6 117.3 822.7 116.2 C823.9 115.2 825.7 114.4 826.3 114.0" fill="none" stroke="#2c2c2c" stroke-width="0.85" stroke-linecap="round" stroke-linejoin="round"/>
<path d="M834.2 105.6 C834.8 105.5 836.6 104.8 837.8 104.7 C839.0 104.7 840.1 105.5 841.3 105.4 C842.5 105.4 844.3 104.5 844.9 104.3" fill="none" stroke="#2c2c2c" stroke-width="0.85" stroke-linecap="round" stroke-linejoin="round"/>
<path d="M836.9 111.8 C837.5 111.6 839.3 110.9 840.4 110.5 C841.6 110.0 842.9 109.5 844.0 109.2 C845.0 108.8 846.2 108.4 846.6 108.3" fill="none" stroke="#2c2c2c" stroke-width="0.85" stroke-linecap="round" stroke-linejoin="round"/>
<path d="M807.3 126.0 C807.9 125.7 809.8 124.6 811.2 124.2 C812.6 123.8 814.6 123.6 815.7 123.3 C816.7 123.0 817.1 122.6 817.4 122.4" fill="none" stroke="#2c2c2c" stroke-width="0.85" stroke-linecap="round" stroke-linejoin="round"/>
<path d="M809.0 115.2 C809.6 115.8 811.5 119.3 812.3 119.1 C813.1 118.9 813.2 114.2 814.1 114.0 C815.0 113.8 816.7 118.1 817.6 117.8 C818.5 117.6 818.9 112.9 819.6 112.7 C820.2 112.5 820.8 116.6 821.5 116.4 C822.2 116.2 823.4 112.3 823.8 111.5" fill="none" stroke="#2c2c2c" stroke-width="0.85" stroke-linecap="round" stroke-linejoin="round"/>
<path d="M805.0 114.0 C804.9 114.4 803.9 116.0 804.2 116.2 C804.4 116.5 806.2 115.2 806.4 115.5 C806.6 115.9 805.6 117.7 805.5 118.2" fill="none" stroke="#2c2c2c" stroke-width="0.85" stroke-linecap="round" stroke-linejoin="round"/>
<path d="M838.2 106.3 C838.8 106.2 841.0 105.8 841.8 105.8 C842.6 105.8 843.3 106.1 843.1 106.5 C842.9 106.9 841.3 107.9 840.4 108.3 C839.6 108.6 838.6 108.6 838.2 108.7" fill="none" stroke="#2c2c2c" stroke-width="0.85" stroke-linecap="round" stroke-linejoin="round"/>
<path d="M819.2 105.4 C820.1 105.6 822.9 106.3 824.5 106.3 C826.1 106.4 827.8 106.0 828.9 105.6 C830.1 105.2 831.2 104.1 831.6 103.8" fill="none" stroke="#2c2c2c" stroke-width="0.85" stroke-linecap="round" stroke-linejoin="round"/>
<rect x="741" y="273.6" width="6.8" height="3.4" fill="#b0b0b2" stroke="#444" stroke-width="0.5"/>
<rect x="738.4" y="276.6" width="12" height="8.4" rx="3.4" fill="url(#gB)" stroke="#3c3c3e" stroke-width="0.7"/>
<rect x="738.2" y="277.2" width="1.6" height="7.2" rx="0.6" fill="#3c3c3e"/>
<rect x="749" y="277.2" width="1.6" height="7.2" rx="0.6" fill="#3c3c3e"/>
<path d="M741.8 265 L746.4 265 L746.8 268 L745.6 270 L746.6 272 L745.4 273.8 L743 273.8 L742.4 271.4 L741.2 269.6 L742.2 267.4 Z" fill="#223c78" stroke="#14203e" stroke-width="0.5"/>
<rect x="738.9" y="261.8" width="9.8" height="3.6" rx="1.5" fill="#264486" stroke="#14203e" stroke-width="0.5"/>
<rect x="866.9" y="297.2" width="230.89999999999998" height="10.199999999999989" fill="#b8a17d" stroke="#74654c" stroke-width="0.6"/>
<rect x="894.4" y="187" width="21.6" height="35.4" fill="url(#gH)" stroke="#5e5e60" stroke-width="0.7"/>
<line x1="894.4" y1="201.3" x2="916.0" y2="201.3" stroke="#6e6e72" stroke-width="1.3"/>
<rect x="950.4" y="187" width="21.6" height="35.4" fill="url(#gH)" stroke="#5e5e60" stroke-width="0.7"/>
<line x1="950.4" y1="201.3" x2="972.0" y2="201.3" stroke="#6e6e72" stroke-width="1.3"/>
<rect x="867.5" y="222.6" width="230" height="74.6" fill="url(#gK)" stroke="#5e5e60" stroke-width="0.9"/>
<rect x="871.20" y="224.6" width="1.7" height="70.6" fill="#77777b" opacity="0.42"/>
<rect x="873.60" y="224.6" width="1.1" height="70.6" fill="#ececf0" opacity="0.35"/>
<rect x="876.62" y="224.6" width="1.7" height="70.6" fill="#77777b" opacity="0.42"/>
<rect x="879.02" y="224.6" width="1.1" height="70.6" fill="#ececf0" opacity="0.35"/>
<rect x="882.04" y="224.6" width="1.7" height="70.6" fill="#77777b" opacity="0.42"/>
<rect x="884.44" y="224.6" width="1.1" height="70.6" fill="#ececf0" opacity="0.35"/>
<rect x="887.46" y="224.6" width="1.7" height="70.6" fill="#77777b" opacity="0.42"/>
<rect x="889.86" y="224.6" width="1.1" height="70.6" fill="#ececf0" opacity="0.35"/>
<rect x="892.88" y="224.6" width="1.7" height="70.6" fill="#77777b" opacity="0.42"/>
<rect x="895.28" y="224.6" width="1.1" height="70.6" fill="#ececf0" opacity="0.35"/>
<rect x="898.30" y="224.6" width="1.7" height="70.6" fill="#77777b" opacity="0.42"/>
<rect x="900.70" y="224.6" width="1.1" height="70.6" fill="#ececf0" opacity="0.35"/>
<rect x="903.72" y="224.6" width="1.7" height="70.6" fill="#77777b" opacity="0.42"/>
<rect x="906.12" y="224.6" width="1.1" height="70.6" fill="#ececf0" opacity="0.35"/>
<rect x="909.14" y="224.6" width="1.7" height="70.6" fill="#77777b" opacity="0.42"/>
<rect x="911.54" y="224.6" width="1.1" height="70.6" fill="#ececf0" opacity="0.35"/>
<rect x="914.56" y="224.6" width="1.7" height="70.6" fill="#77777b" opacity="0.42"/>
<rect x="916.96" y="224.6" width="1.1" height="70.6" fill="#ececf0" opacity="0.35"/>
<rect x="919.98" y="224.6" width="1.7" height="70.6" fill="#77777b" opacity="0.42"/>
<rect x="922.38" y="224.6" width="1.1" height="70.6" fill="#ececf0" opacity="0.35"/>
<rect x="925.40" y="224.6" width="1.7" height="70.6" fill="#77777b" opacity="0.42"/>
<rect x="927.80" y="224.6" width="1.1" height="70.6" fill="#ececf0" opacity="0.35"/>
<rect x="930.82" y="224.6" width="1.7" height="70.6" fill="#77777b" opacity="0.42"/>
<rect x="933.22" y="224.6" width="1.1" height="70.6" fill="#ececf0" opacity="0.35"/>
<rect x="936.24" y="224.6" width="1.7" height="70.6" fill="#77777b" opacity="0.42"/>
<rect x="938.64" y="224.6" width="1.1" height="70.6" fill="#ececf0" opacity="0.35"/>
<rect x="941.66" y="224.6" width="1.7" height="70.6" fill="#77777b" opacity="0.42"/>
<rect x="944.06" y="224.6" width="1.1" height="70.6" fill="#ececf0" opacity="0.35"/>
<rect x="947.08" y="224.6" width="1.7" height="70.6" fill="#77777b" opacity="0.42"/>
<rect x="949.48" y="224.6" width="1.1" height="70.6" fill="#ececf0" opacity="0.35"/>
<rect x="952.50" y="224.6" width="1.7" height="70.6" fill="#77777b" opacity="0.42"/>
<rect x="954.90" y="224.6" width="1.1" height="70.6" fill="#ececf0" opacity="0.35"/>
<rect x="957.92" y="224.6" width="1.7" height="70.6" fill="#77777b" opacity="0.42"/>
<rect x="960.32" y="224.6" width="1.1" height="70.6" fill="#ececf0" opacity="0.35"/>
<rect x="963.34" y="224.6" width="1.7" height="70.6" fill="#77777b" opacity="0.42"/>
<rect x="965.74" y="224.6" width="1.1" height="70.6" fill="#ececf0" opacity="0.35"/>
<rect x="968.76" y="224.6" width="1.7" height="70.6" fill="#77777b" opacity="0.42"/>
<rect x="971.16" y="224.6" width="1.1" height="70.6" fill="#ececf0" opacity="0.35"/>
<rect x="974.18" y="224.6" width="1.7" height="70.6" fill="#77777b" opacity="0.42"/>
<rect x="976.58" y="224.6" width="1.1" height="70.6" fill="#ececf0" opacity="0.35"/>
<rect x="979.60" y="224.6" width="1.7" height="70.6" fill="#77777b" opacity="0.42"/>
<rect x="982.00" y="224.6" width="1.1" height="70.6" fill="#ececf0" opacity="0.35"/>
<rect x="985.02" y="224.6" width="1.7" height="70.6" fill="#77777b" opacity="0.42"/>
<rect x="987.42" y="224.6" width="1.1" height="70.6" fill="#ececf0" opacity="0.35"/>
<rect x="990.44" y="224.6" width="1.7" height="70.6" fill="#77777b" opacity="0.42"/>
<rect x="992.84" y="224.6" width="1.1" height="70.6" fill="#ececf0" opacity="0.35"/>
<rect x="995.86" y="224.6" width="1.7" height="70.6" fill="#77777b" opacity="0.42"/>
<rect x="998.26" y="224.6" width="1.1" height="70.6" fill="#ececf0" opacity="0.35"/>
<rect x="1001.28" y="224.6" width="1.7" height="70.6" fill="#77777b" opacity="0.42"/>
<rect x="1003.68" y="224.6" width="1.1" height="70.6" fill="#ececf0" opacity="0.35"/>
<rect x="1006.70" y="224.6" width="1.7" height="70.6" fill="#77777b" opacity="0.42"/>
<rect x="1009.10" y="224.6" width="1.1" height="70.6" fill="#ececf0" opacity="0.35"/>
<rect x="1012.12" y="224.6" width="1.7" height="70.6" fill="#77777b" opacity="0.42"/>
<rect x="1014.52" y="224.6" width="1.1" height="70.6" fill="#ececf0" opacity="0.35"/>
<rect x="1017.54" y="224.6" width="1.7" height="70.6" fill="#77777b" opacity="0.42"/>
<rect x="1019.94" y="224.6" width="1.1" height="70.6" fill="#ececf0" opacity="0.35"/>
<rect x="1022.96" y="224.6" width="1.7" height="70.6" fill="#77777b" opacity="0.42"/>
<rect x="1025.36" y="224.6" width="1.1" height="70.6" fill="#ececf0" opacity="0.35"/>
<rect x="1028.38" y="224.6" width="1.7" height="70.6" fill="#77777b" opacity="0.42"/>
<rect x="1030.78" y="224.6" width="1.1" height="70.6" fill="#ececf0" opacity="0.35"/>
<rect x="1033.80" y="224.6" width="1.7" height="70.6" fill="#77777b" opacity="0.42"/>
<rect x="1036.20" y="224.6" width="1.1" height="70.6" fill="#ececf0" opacity="0.35"/>
<rect x="1039.22" y="224.6" width="1.7" height="70.6" fill="#77777b" opacity="0.42"/>
<rect x="1041.62" y="224.6" width="1.1" height="70.6" fill="#ececf0" opacity="0.35"/>
<rect x="1044.64" y="224.6" width="1.7" height="70.6" fill="#77777b" opacity="0.42"/>
<rect x="1047.04" y="224.6" width="1.1" height="70.6" fill="#ececf0" opacity="0.35"/>
<rect x="1050.06" y="224.6" width="1.7" height="70.6" fill="#77777b" opacity="0.42"/>
<rect x="1052.46" y="224.6" width="1.1" height="70.6" fill="#ececf0" opacity="0.35"/>
<rect x="1055.48" y="224.6" width="1.7" height="70.6" fill="#77777b" opacity="0.42"/>
<rect x="1057.88" y="224.6" width="1.1" height="70.6" fill="#ececf0" opacity="0.35"/>
<rect x="1060.90" y="224.6" width="1.7" height="70.6" fill="#77777b" opacity="0.42"/>
<rect x="1063.30" y="224.6" width="1.1" height="70.6" fill="#ececf0" opacity="0.35"/>
<rect x="1066.32" y="224.6" width="1.7" height="70.6" fill="#77777b" opacity="0.42"/>
<rect x="1068.72" y="224.6" width="1.1" height="70.6" fill="#ececf0" opacity="0.35"/>
<rect x="1071.74" y="224.6" width="1.7" height="70.6" fill="#77777b" opacity="0.42"/>
<rect x="1074.14" y="224.6" width="1.1" height="70.6" fill="#ececf0" opacity="0.35"/>
<rect x="1077.16" y="224.6" width="1.7" height="70.6" fill="#77777b" opacity="0.42"/>
<rect x="1079.56" y="224.6" width="1.1" height="70.6" fill="#ececf0" opacity="0.35"/>
<rect x="1082.58" y="224.6" width="1.7" height="70.6" fill="#77777b" opacity="0.42"/>
<rect x="1084.98" y="224.6" width="1.1" height="70.6" fill="#ececf0" opacity="0.35"/>
<rect x="1088.00" y="224.6" width="1.7" height="70.6" fill="#77777b" opacity="0.42"/>
<rect x="1090.40" y="224.6" width="1.1" height="70.6" fill="#ececf0" opacity="0.35"/>
<rect x="1093.42" y="224.6" width="1.7" height="70.6" fill="#77777b" opacity="0.42"/>
<rect x="1095.82" y="224.6" width="1.1" height="70.6" fill="#ececf0" opacity="0.35"/>
<rect x="867.5" y="222.6" width="230" height="2" fill="#d2d2d4" stroke="#8a8a8c" stroke-width="0.4"/>
<rect x="867.5" y="295.2" width="230" height="2" fill="#b4b4b6" stroke="#8a8a8c" stroke-width="0.4"/>
<rect x="867.5" y="222.6" width="3.2" height="74.6" fill="#d0d0d2"/>
<rect x="1094.6" y="222.6" width="2.9" height="74.6" fill="#a0a0a2"/>
<rect x="867.5" y="222.6" width="230" height="74.6" fill="none" stroke="#5e5e60" stroke-width="0.9"/>
<path d="M1098 266 L1103.30 266.00 Q1106.3 266 1106.30 269.00 L1106.30 323.20 Q1106.3 326.2 1109.30 326.20 L1200 326.2" fill="none" stroke="#5e4a28" stroke-width="4.1" stroke-linejoin="round" stroke-linecap="butt"/>
<path d="M1098 266 L1103.30 266.00 Q1106.3 266 1106.30 269.00 L1106.30 323.20 Q1106.3 326.2 1109.30 326.20 L1200 326.2" fill="none" stroke="#f7931e" stroke-width="2.9" stroke-linejoin="round" stroke-linecap="butt"/>
<rect x="1103.9" y="273.8" width="4.8" height="4.4" rx="0.8" fill="#a87038" stroke="#4a3418" stroke-width="0.5"/>
<rect x="1103.9" y="286.8" width="4.8" height="4.4" rx="0.8" fill="#a87038" stroke="#4a3418" stroke-width="0.5"/>
<circle cx="1106.3" cy="282.5" r="4.7" fill="#f6f6f6" stroke="#262626" stroke-width="1.2"/>
<circle cx="1106.3" cy="282.5" r="2.7" fill="none" stroke="#8a8a8a" stroke-width="0.5"/>
<rect x="1105.4" y="281.3" width="1.8" height="2.4" fill="#6a6a6a"/>
<circle cx="1095.2" cy="345.5" r="5.6" fill="none" stroke="#1e1e1e" stroke-width="1.1"/>
<text x="1095.3" y="349.2" font-family="Liberation Sans, sans-serif" font-size="10.4" text-anchor="middle" fill="#1e1e1e" stroke="#1e1e1e" stroke-width="0.35">C</text>
<rect x="1104.9" y="339.2" width="1.3" height="19.8" fill="#7ab929"/>
<text x="1110.4" y="347.5" font-family="Liberation Sans, sans-serif" font-size="10" fill="#2e3f86" stroke="#2e3f86" stroke-width="0.3" textLength="60.6" lengthAdjust="spacing">Hitachi Zosen</text>
<text x="1110.6" y="359" font-family="Liberation Sans, sans-serif" font-size="10" fill="#2e3f86" stroke="#2e3f86" stroke-width="0.3" textLength="27.4" lengthAdjust="spacing">INOVA</text>
</svg>
</body></html>
